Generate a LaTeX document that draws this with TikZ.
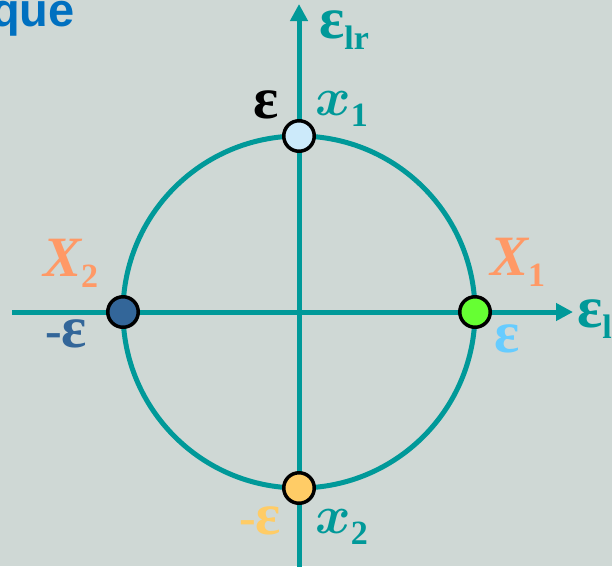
\documentclass[tikz,border=0pt]{standalone}
\usepackage{fix-cm}
\usepackage{fontspec}
\setmainfont{Liberation Serif}
\newfontfamily\sansbold{Liberation Sans}
\usetikzlibrary{arrows.meta}
\definecolor{bgc}{RGB}{207,216,213}
\definecolor{axisc}{RGB}{0,153,153}
\definecolor{titlec}{RGB}{0,112,192}
\definecolor{dotA}{RGB}{204,234,250}
\definecolor{dotB}{RGB}{102,255,51}
\definecolor{dotC}{RGB}{51,102,153}
\definecolor{dotD}{RGB}{255,204,102}
\definecolor{orX}{RGB}{255,153,102}
\definecolor{ltblue}{RGB}{102,204,255}
\newcommand{\subx}[1]{{\fontsize{34}{36}\selectfont\raisebox{-11pt}{#1}}}
\newcommand{\bigX}{{\fontsize{57}{60}\selectfont\bfseries\itshape X}}
\newcommand{\smallx}{{\fontsize{54}{56}\selectfont\boldmath$x$}}
\newcommand{\eps}{{\fontsize{59}{62}\selectfont ε}}
\tikzset{
  axis/.style={draw=axisc, line width=5pt},
  dot/.style={circle, draw=black, line width=3.5pt, minimum size=30.5pt, inner sep=0pt},
  lab/.style={inner sep=0pt, font=\bfseries\fontsize{50}{52}\selectfont},
}
\begin{document}
\begin{tikzpicture}[x=1pt,y=-1pt]
\fill[bgc] (0,0) rectangle (612,566);
\useasboundingbox (0,0) rectangle (612,566);
\coordinate (O) at (299,312);
\coordinate (L) at (12,312);
\coordinate (R) at (573,312);
\coordinate (B) at (299,570);
\coordinate (T) at (299,4);
\draw[axis, -{Triangle[length=17pt,width=17pt]}] (L) -- (R);
\draw[axis, -{Triangle[length=17pt,width=17pt]}] (B) -- (T);
\draw[axis] (O) circle[radius=176];
\node[dot, fill=dotA] (top) at (299,136) {};
\node[dot, fill=dotB] (right) at (475,312) {};
\node[dot, fill=dotC] (left) at (123,312) {};
\node[dot, fill=dotD] (bottom) at (299,488) {};
% title fragment
\node[anchor=base west, inner sep=0pt, text=titlec, font=\sansbold\bfseries\fontsize{47}{50}\selectfont] (title) at (-9,26) {que};
% axis labels
\node[lab, anchor=base west, text=axisc] (elr) at (319,38) {\eps\subx{lr}};
\node[lab, anchor=base west, text=axisc] (ell) at (577,327) {\eps\subx{ll}};
% top
\node[lab, text=black] (etop) at (266,105) {\eps};
\node[lab, anchor=base west, text=axisc] (x1) at (315,115) {\smallx\subx{1}};
% left
\node[lab, anchor=base west, text=orX] (X2) at (43,276) {\bigX\subx{2}};
\node[lab, text=dotC] (eleft) at (66,334) {-\eps};
% right
\node[lab, anchor=base west, text=orX] (X1) at (490,275) {\bigX\subx{1}};
\node[lab, text=ltblue] (eright) at (507,339) {\eps};
% bottom
\node[lab, text=dotD] (ebot) at (260,521) {-\eps};
\node[lab, anchor=base west, text=axisc] (x2) at (315,533) {\smallx\subx{2}};
\end{tikzpicture}
\end{document}
